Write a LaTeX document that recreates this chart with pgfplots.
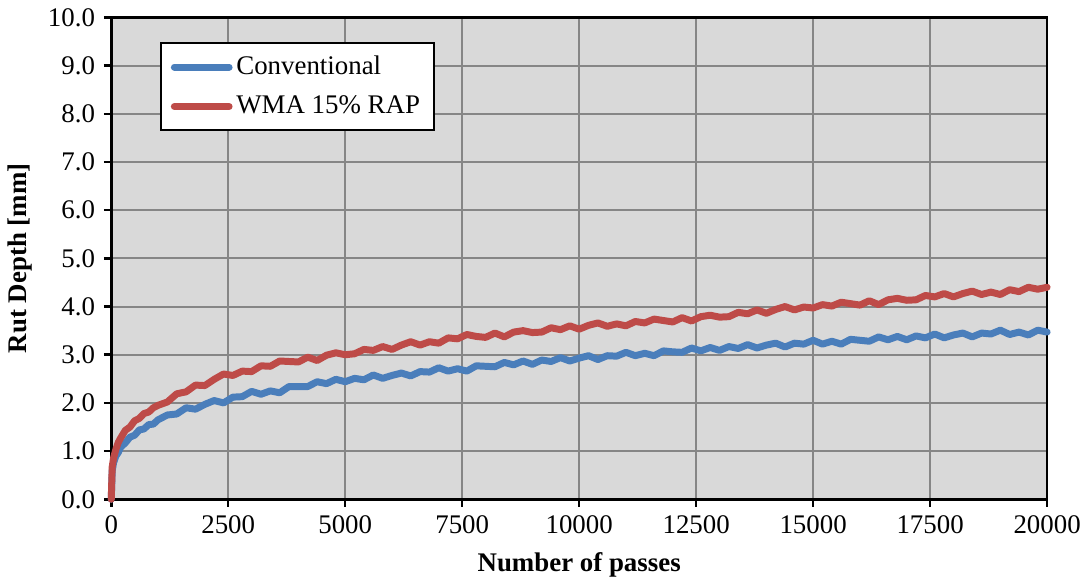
\documentclass[border=0pt]{standalone}
\usepackage{fontspec}
\setmainfont{Liberation Serif}
\usepackage{pgfplots}
\pgfplotsset{compat=1.18}

\begin{document}
\begin{tikzpicture}
\definecolor{convBlue}{RGB}{74,126,187}
\definecolor{wmaRed}{RGB}{190,75,72}
\definecolor{plotBg}{RGB}{217,217,217}
\definecolor{gridGray}{RGB}{134,134,134}
\begin{axis}[
    scale only axis,
    width=376pt, height=193.6pt,
    xmin=0, xmax=20000, ymin=0, ymax=10,
    xtick={0,2500,...,20000},
    ytick={0,1,...,10},
    scaled x ticks=false,
    axis background/.style={fill=plotBg},
    grid=major,
    major grid style={gridGray, line width=0.8pt},
    axis line style={black, line width=1.1pt},
    tick style={black, line width=1pt},
    major tick length=3pt,
    tick align=outside,
    xtick pos=bottom, ytick pos=left,
    /pgf/number format/assume math mode=true,
    tick label style={font=\fontsize{10.8}{12}\selectfont},
    xticklabel style={/pgf/number format/1000 sep={}},
    yticklabel style={/pgf/number format/.cd, fixed, fixed zerofill, precision=1},
    xlabel={\textbf{Number of passes}},
    ylabel={\textbf{Rut Depth [mm]}},
    label style={font=\fontsize{10.8}{12}\selectfont},
    xlabel style={at={(axis description cs:0.5,-0.136)}, anchor=center},
    ylabel style={at={(axis description cs:-0.097,0.5)}, anchor=center},
    clip=false,
    legend style={
        at={(0.052,0.948)}, anchor=north west,
        draw=black, line width=0.8pt, fill=white,
        font=\fontsize{10.8}{12}\selectfont,
        inner xsep=4pt, inner ysep=3pt,
        row sep=3pt,
        nodes={inner xsep=1.5pt},
    },
    legend cell align=left,
    legend image code/.code={\draw[#1] (0pt,0pt) -- (22pt,0pt);},
    every axis plot/.append style={line width=2.8pt, line cap=round, line join=round},
]
\path (rel axis cs:-0.1181,-0.1694) rectangle (rel axis cs:1.0404,1.031);

\addplot[convBlue] coordinates {
(0,0) (20,0.59) (50,0.76) (100,0.90) (150,0.97) (200,1.08) (300,1.17)
(400,1.29) (500,1.33) (600,1.44) (700,1.46) (800,1.55) (900,1.56) (1000,1.65)
(1200,1.75) (1400,1.77) (1600,1.90) (1800,1.87) (2000,1.97) (2200,2.05)
(2400,2.00) (2600,2.12) (2800,2.13) (3000,2.24) (3200,2.18) (3400,2.25)
(3600,2.21) (3800,2.34) (4000,2.34) (4200,2.34) (4400,2.44) (4600,2.40)
(4800,2.49) (5000,2.44) (5200,2.51) (5400,2.48) (5600,2.58) (5800,2.51)
(6000,2.57) (6200,2.62) (6400,2.56) (6600,2.65) (6800,2.64) (7000,2.73)
(7200,2.66) (7400,2.71) (7600,2.66) (7800,2.77) (8000,2.76) (8200,2.75)
(8400,2.84) (8600,2.79) (8800,2.87) (9000,2.80) (9200,2.89) (9400,2.86)
(9600,2.94) (9800,2.87) (10000,2.93) (10200,2.98) (10400,2.90) (10600,2.98)
(10800,2.97) (11000,3.05) (11200,2.98) (11400,3.03) (11600,2.98) (11800,3.08)
(12000,3.06) (12200,3.05) (12400,3.14) (12600,3.08) (12800,3.15) (13000,3.09)
(13200,3.17) (13400,3.13) (13600,3.21) (13800,3.14) (14000,3.20) (14200,3.24)
(14400,3.16) (14600,3.24) (14800,3.22) (15000,3.30) (15200,3.22) (15400,3.28)
(15600,3.22) (15800,3.32) (16000,3.30) (16200,3.28) (16400,3.37) (16600,3.31)
(16800,3.38) (17000,3.31) (17200,3.39) (17400,3.35) (17600,3.43) (17800,3.35)
(18000,3.41) (18200,3.45) (18400,3.37) (18600,3.45) (18800,3.43) (19000,3.51)
(19200,3.42) (19400,3.47) (19600,3.41) (19800,3.51) (20000,3.47)
};
\addlegendentry{Conventional}

\addplot[wmaRed] coordinates {
(0,0) (20,0.67) (50,0.86) (100,1.04) (150,1.18) (200,1.27) (300,1.43)
(400,1.50) (500,1.63) (600,1.68) (700,1.78) (800,1.81) (900,1.90) (1000,1.95)
(1200,2.02) (1400,2.19) (1600,2.23) (1800,2.37) (2000,2.36) (2200,2.49)
(2400,2.60) (2600,2.57) (2800,2.66) (3000,2.65) (3200,2.77) (3400,2.76)
(3600,2.87) (3800,2.86) (4000,2.85) (4200,2.95) (4400,2.88) (4600,2.99)
(4800,3.04) (5000,3.00) (5200,3.02) (5400,3.11) (5600,3.09) (5800,3.17)
(6000,3.11) (6200,3.20) (6400,3.27) (6600,3.20) (6800,3.27) (7000,3.24)
(7200,3.35) (7400,3.33) (7600,3.42) (7800,3.38) (8000,3.36) (8200,3.45)
(8400,3.37) (8600,3.47) (8800,3.50) (9000,3.46) (9200,3.47) (9400,3.56)
(9600,3.52) (9800,3.60) (10000,3.53) (10200,3.61) (10400,3.66) (10600,3.59)
(10800,3.64) (11000,3.60) (11200,3.69) (11400,3.66) (11600,3.74) (11800,3.71)
(12000,3.68) (12200,3.77) (12400,3.70) (12600,3.79) (12800,3.82) (13000,3.78)
(13200,3.79) (13400,3.88) (13600,3.85) (13800,3.93) (14000,3.86) (14200,3.94)
(14400,4.00) (14600,3.93) (14800,3.99) (15000,3.97) (15200,4.04) (15400,4.01)
(15600,4.09) (15800,4.06) (16000,4.03) (16200,4.12) (16400,4.04) (16600,4.14)
(16800,4.17) (17000,4.13) (17200,4.14) (17400,4.23) (17600,4.20) (17800,4.27)
(18000,4.20) (18200,4.27) (18400,4.32) (18600,4.25) (18800,4.30) (19000,4.25)
(19200,4.35) (19400,4.31) (19600,4.40) (19800,4.36) (20000,4.40)
};
\addlegendentry{WMA 15\% RAP}
\end{axis}
\end{tikzpicture}
\end{document}
